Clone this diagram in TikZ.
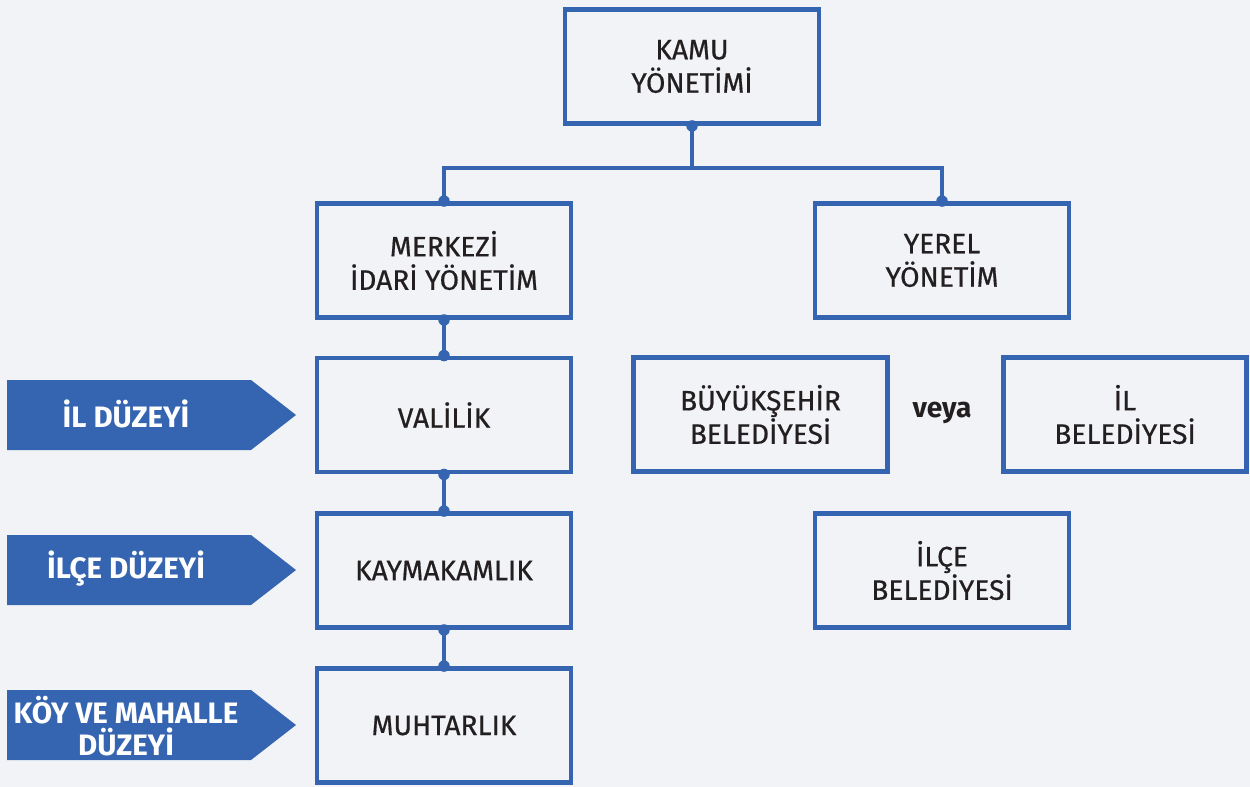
\documentclass[tikz,border=0pt]{standalone}
\usepackage{fontspec}
\setmainfont{Fira Sans}
\newfontfamily\boxfont[FakeBold=0.6]{Fira Sans}
\definecolor{bgcol}{HTML}{F1F3F6}
\definecolor{bluecol}{HTML}{3565B0}
\definecolor{txtcol}{HTML}{231F20}
\tikzset{
  unitbox/.style={draw=bluecol, line width=2.8pt, fill=bgcol, minimum width=5.08cm, minimum height=2.28cm, align=center, text=txtcol, font=\boxfont\fontsize{16}{19}\selectfont},
  link/.style={draw=bluecol, line width=2.8pt},
  dot/.style={circle, fill=bluecol, inner sep=0pt, minimum size=0.23cm},
  levelfill/.style={fill=bluecol},
  leveltext/.style={text=white, align=center, font=\bfseries\fontsize{16.8}{18.5}\selectfont}
}
\begin{document}
\begin{tikzpicture}[x=0.02cm, y=-0.02cm]
        \fill[bgcol] (0,0) rectangle (1250,787);
        \useasboundingbox (0,0) rectangle (1250,787);
        % boxes
        \node[unitbox] (kamu) at (692,66.5) {KAMU\\YÖNETİMİ};
        \node[unitbox] (merkezi) at (444,260.5) {MERKEZİ\\İDARİ YÖNETİM};
        \node[unitbox] (yerel) at (942,260.5) {YEREL\\YÖNETİM};
        \node[unitbox] (valilik) at (444,415) {VALİLİK};
        \node[unitbox] (kaymakam) at (444,570.5) {KAYMAKAMLIK};
        \node[unitbox] (muhtar) at (444,725.5) {MUHTARLIK};
        \node[unitbox] (buyuksehir) at (760.5,414.5) {BÜYÜKŞEHİR\\BELEDİYESİ};
        \node[unitbox, minimum width=4.86cm] (ilbel) at (1125,414.5) {İL\\BELEDİYESİ};
        \node[unitbox] (ilcebel) at (942,570.5) {İLÇE\\BELEDİYESİ};
        \node[text=txtcol, font=\bfseries\fontsize{16}{18}\selectfont] (veya) at (942,413) {veya};
        % connectors
        \coordinate (split) at (692,168);
        \draw[link] (kamu.south) -- (split);
        \draw[link] (merkezi.north) |- (split) -| (yerel.north);
        \draw[link] (merkezi.south) -- (valilik.north);
        \draw[link] (valilik.south) -- (kaymakam.north);
        \draw[link] (kaymakam.south) -- (muhtar.north);
        \foreach \n in {kamu.south, merkezi.north, yerel.north, merkezi.south, valilik.north, valilik.south, kaymakam.north, kaymakam.south, muhtar.north}
          \node[dot] at (\n) {};
        % levels
        \fill[levelfill] (7,380) -- (251,380) -- (296,415) -- (251,450) -- (7,450) -- cycle;
        \node[leveltext] (ilduz) at (126,414) {İL DÜZEYİ};
        \fill[levelfill] (7,535) -- (251,535) -- (296,570) -- (251,605) -- (7,605) -- cycle;
        \node[leveltext] (ilceduz) at (126,569) {İLÇE DÜZEYİ};
        \fill[levelfill] (7,690) -- (251,690) -- (296,725) -- (251,760) -- (7,760) -- cycle;
        \node[leveltext] (koyduz) at (126,726) {KÖY VE MAHALLE\\DÜZEYİ};
\end{tikzpicture}
\end{document}
